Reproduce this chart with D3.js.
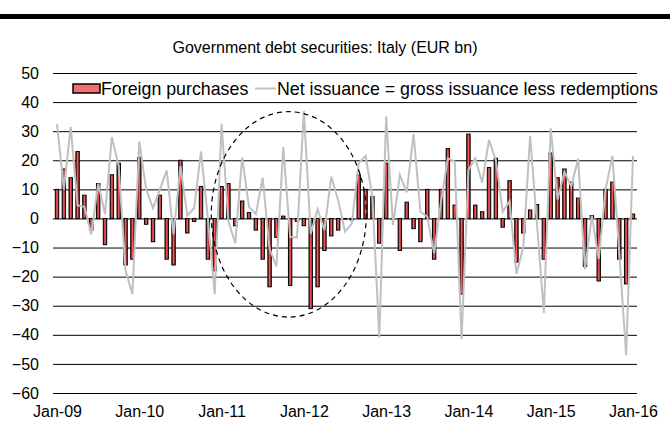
<!DOCTYPE html>
<html>
<head>
<meta charset="utf-8">
<script src="https://cdn.jsdelivr.net/npm/d3@7"></script>
<style>
  body { margin: 0; background: #fff; }
  svg { display: block; font-family: "Liberation Sans", Arial, sans-serif; }
  .grid line { stroke: #000; stroke-width: 1; }
  .grid text, .xaxis text { font-size: 16px; fill: #000; }
</style>
</head>
<body>
<svg width="670" height="436"></svg>
<script>
// Monthly categories Jan-09 .. Jan-16
var months = d3.timeMonth.range(new Date(2009, 0, 1), new Date(2016, 1, 1));

// Foreign purchases (EUR bn), one per month
var foreignPurchases = [
  10, 17, 14, 23, 8, -4, 12, -9, 15, 19, -16, -14,
  21, -2, -8, 8, -14, -16, 20, -5, -1, 11, -14, -18,
  11, 12, -2.5, 6, 2, -4, -14, -23.5, -6.5, 0.8, -23, -1,
  -2.5, -31, -23.5, -11, -6, -4, 0, -0.5, 15, 10, 7.5, -8.5,
  19, 0, -11, 5.6, -3.5, -8, 10, -14, 10, 24, 4.6, -26,
  29, 4.6, 2.3, 17.5, 20.7, -3, 13, -15, -5, 2.9, 4.8, -14,
  22.5, 14, 17, 12.5, 7, -16.5, 1, -21.5, 10, 12.5, -14, -22.5,
  1.5
];

// Net issuance = gross issuance less redemptions (EUR bn)
var netIssuance = [
  32.5, 10, 31.5, 4.5, 4, -5.5, 12, 1.5, 28, 18, -18, -26,
  26.5, 10, 3.5, 10, 16.5, -5.5, 18, 1, 3.5, 23, 0, -26,
  32.5, -1, -8.5, 21, 4, 1.5, 14, -10.5, -16.5, 24.5, -6.3, -6.6,
  37, -5.3, 3.2, -4, 14.4, 6.3, -4.6, -1.7, 19, 21.5, 7.5, -41,
  35, -2.3, 15, 9, 29, 2.3, 0.6, -12, 5.7, 20.7, 19.5, -41.5,
  16.7, 20.7, 12.3, 27, 20, 2.3, 6, -19, -10, 28.3, -2, -32.5,
  31, 6.5, 16, 11, 20.5, -17.5, 1, -14, 10, 21.5, -12, -47,
  21.5
];

var yTicks = [50, 40, 30, 20, 10, 0, -10, -20, -30, -40, -50, -60];
var xTickMonths = months.filter(function(d) { return d.getMonth() === 0; });
var seriesNames = ["Foreign purchases", "Net issuance = gross issuance less redemptions"];
var chartTitle = "Government debt securities: Italy (EUR bn)";

var svg = d3.select("svg");

var plotLeft = 53, plotRight = 637, plotTop = 73, plotBottom = 393;

var x = d3.scalePoint()
    .domain(months)
    .range([57, 633]);

var y = d3.scaleLinear()
    .domain([-60, 50])
    .range([plotBottom, plotTop]);

// gradient for the bars
var defs = svg.append("defs");
var grad = defs.append("linearGradient")
    .attr("id", "barGrad")
    .attr("x1", "0%").attr("x2", "100%")
    .attr("y1", "0%").attr("y2", "0%");
grad.append("stop").attr("offset", "0%").attr("stop-color", "#6e1c1c");
grad.append("stop").attr("offset", "50%").attr("stop-color", "#ff5c5c");
grad.append("stop").attr("offset", "100%").attr("stop-color", "#6e1c1c");

// thick rule at the top
svg.append("rect")
    .attr("x", 0).attr("y", 14)
    .attr("width", 670).attr("height", 5)
    .attr("fill", "#000");

// title
svg.append("text")
    .attr("x", 325)
    .attr("y", 53)
    .attr("text-anchor", "middle")
    .attr("font-size", "16px")
    .text(chartTitle);

// gridlines + y labels
svg.append("g")
    .attr("class", "grid")
    .attr("transform", "translate(" + plotLeft + ",0)")
    .call(d3.axisLeft(y)
        .tickValues(yTicks)
        .tickSize(-(plotRight - plotLeft))
        .tickPadding(14)
        .tickFormat(d3.format("d")))
    .call(function(g) { g.select(".domain").remove(); })
    .call(function(g) { g.selectAll("text").attr("x", -14); });

// x labels
svg.append("g")
    .attr("class", "xaxis")
    .attr("transform", "translate(0," + plotBottom + ")")
    .call(d3.axisBottom(x)
        .tickValues(xTickMonths)
        .tickSize(0)
        .tickPadding(13)
        .tickFormat(d3.timeFormat("%b-%y")))
    .call(function(g) { g.select(".domain").remove(); });

// bars
var barW = 3.4;
svg.append("g")
    .selectAll("rect")
    .data(foreignPurchases)
    .enter().append("rect")
    .attr("x", function(d, i) { return x(months[i]) - barW / 2; })
    .attr("y", function(d) { return y(Math.max(0, d)); })
    .attr("width", barW)
    .attr("height", function(d) { return Math.max(0.6, Math.abs(y(d) - y(0))); })
    .attr("fill", "url(#barGrad)")
    .attr("stroke", "#000")
    .attr("stroke-width", 1);

// net issuance line
var line = d3.line()
    .x(function(d, i) { return x(months[i]); })
    .y(function(d) { return y(d); });

svg.append("path")
    .datum(netIssuance)
    .attr("fill", "none")
    .attr("stroke", "#c0c0c0")
    .attr("stroke-width", 2)
    .attr("stroke-linejoin", "miter")
    .attr("d", line);

// dashed ellipse around the 2011-12 period
var ellMonth = 33.8;
var ex = 57 + ellMonth * (x.step());
svg.append("ellipse")
    .attr("cx", ex)
    .attr("cy", y(1.4))
    .attr("rx", x.step() * 11.3)
    .attr("ry", y(-35.3) - y(0))
    .attr("fill", "none")
    .attr("stroke", "#000")
    .attr("stroke-width", 1.2)
    .attr("stroke-dasharray", "5,4");

// legend
var legend = svg.append("g").attr("font-size", "17.8px");
legend.append("rect")
    .attr("x", 73).attr("y", 84)
    .attr("width", 27).attr("height", 9)
    .attr("fill", "#f07070")
    .attr("stroke", "#000")
    .attr("stroke-width", 1.5);
legend.append("text")
    .attr("x", 101).attr("y", 94.5)
    .text(seriesNames[0]);
legend.append("line")
    .attr("x1", 255).attr("x2", 276)
    .attr("y1", 88.5).attr("y2", 88.5)
    .attr("stroke", "#c0c0c0")
    .attr("stroke-width", 2);
legend.append("text")
    .attr("x", 277).attr("y", 94.5)
    .text(seriesNames[1]);
</script>
</body>
</html>
